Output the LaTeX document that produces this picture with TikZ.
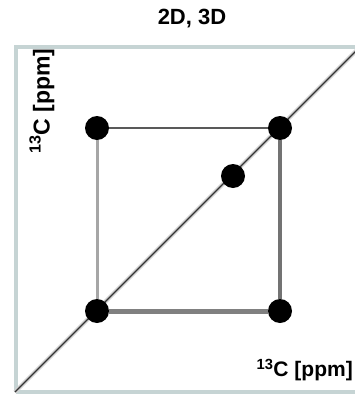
\documentclass[tikz,border=0pt]{standalone}
\usepackage{fontspec}
\setmainfont{Liberation Sans}
\begin{document}
\begin{tikzpicture}[x=1pt,y=-1pt,
  dot/.style={circle,fill=black,inner sep=0pt,minimum size=24pt},
  framecol/.style={draw=frameC,line width=4pt},
  lbl/.style={font=\fontsize{23}{27}\selectfont\bfseries,inner sep=0pt},
]
\definecolor{frameC}{RGB}{198,212,212}
\useasboundingbox (0,0) rectangle (355,394);
\clip (0,0) rectangle (355,394);
% frame
\draw[framecol] (16,392) -- (16,47) -- (362,47);
\draw[framecol] (16,392) -- (362,392);
% diagonal
\coordinate (d0) at (15,392);
\coordinate (d1) at (362,45);
\draw[line width=4pt,black!18,shift={(2.5,2.5)}] (d0) -- (d1);
\draw[line width=1.2pt,black!80] (d0) -- (d1);
% dots
\node[dot] (tl) at (97,128) {};
\node[dot] (tr) at (280,128) {};
\node[dot] (mid) at (233,176) {};
\node[dot] (bl) at (97,311) {};
\node[dot] (br) at (280,311) {};
% square edges
\draw[line width=1.6pt,black!65] (tl) -- (tr);
\draw[line width=3pt,black!35] (tl) -- (bl);
\draw[line width=4.5pt,black!55] (tr) -- (br);
\draw[line width=5pt,black!50] (bl) -- (br);
% texts
\node[lbl,font=\fontsize{22}{26}\selectfont\bfseries] (title) at (192,19) {2D, 3D};
\node[lbl,rotate=90] (ylab) at (42,101) {\textsuperscript{13}C [ppm]};
\node[lbl,anchor=east,font=\fontsize{21}{25}\selectfont\bfseries] (xlab) at (353,370) {\textsuperscript{13}C [ppm]};
\end{tikzpicture}
\end{document}
